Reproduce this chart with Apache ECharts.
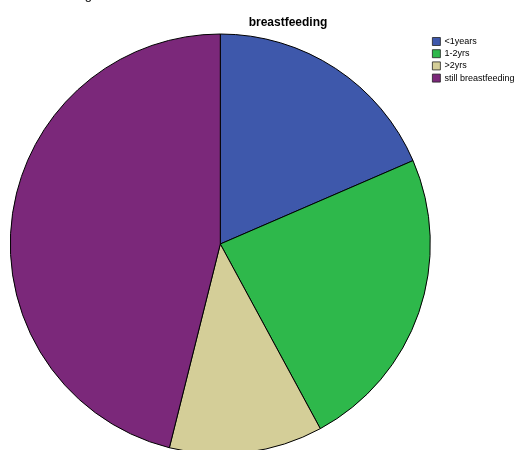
<!DOCTYPE html>
<html>
<head>
<meta charset="utf-8">
<script src="https://cdn.jsdelivr.net/npm/echarts@6/dist/echarts.min.js"></script>
<style>html,body{margin:0;padding:0;background:#fff}#c{width:522px;height:450px}</style>
</head>
<body>
<div id="c"></div>
<script>
var categories = ['<1years', '1-2yrs', '>2yrs', 'still breastfeeding'];
var percents = [18.5, 23.6, 11.8, 46.1];
var colors = ['#3E58AB', '#2EB84B', '#D4CE98', '#7B287A'];
var titleText = 'breastfeeding';

var chart = echarts.init(document.getElementById('c'), null, {renderer: 'canvas'});
chart.setOption({
  animation: false,
  backgroundColor: '#fff',
  color: colors,
  graphic: [
    {type: 'text', x: 288, y: 23, style: {text: titleText, font: 'bold 12px "Liberation Sans", Arial, sans-serif', fill: '#000', textAlign: 'center', textVerticalAlign: 'middle'}},
    {type: 'text', x: 92, y: -11, style: {text: 'g', font: '13px "Liberation Sans", Arial, sans-serif', fill: '#000', textAlign: 'right', textVerticalAlign: 'top'}}
  ],
  legend: {
    orient: 'vertical',
    left: 432,
    top: 37,
    icon: 'rect',
    itemWidth: 8,
    itemHeight: 8,
    itemGap: 3.2,
    padding: 0,
    textStyle: {fontSize: 9, fontFamily: '"Liberation Sans", Arial, sans-serif', color: '#000', padding: [0, 0, 0, -1]},
    itemStyle: {borderColor: '#222', borderWidth: 0.8},
    data: categories
  },
  series: [{
    type: 'pie',
    center: [220.3, 244],
    radius: 210,
    startAngle: 90,
    clockwise: true,
    label: {show: false},
    labelLine: {show: false},
    emphasis: {disabled: true},
    itemStyle: {borderColor: '#000', borderWidth: 1},
    data: categories.map(function (n, i) { return {name: n, value: percents[i]}; })
  }]
});
</script>
</body>
</html>
